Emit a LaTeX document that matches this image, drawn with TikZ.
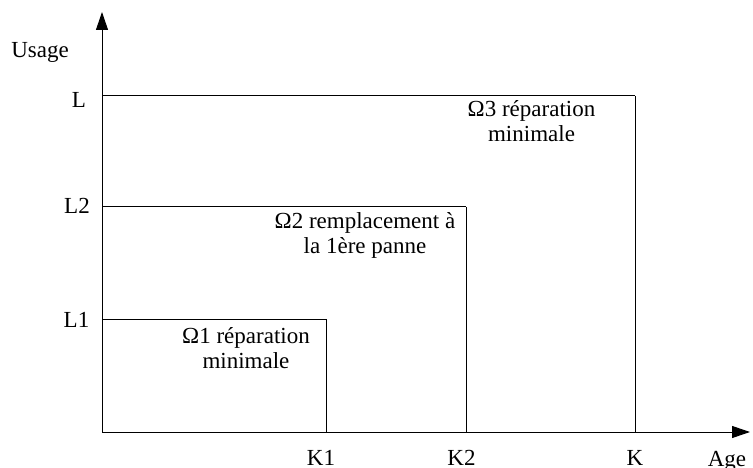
\documentclass[tikz,border=0pt]{standalone}
\usepackage{fontspec}
\setmainfont{Liberation Serif}
\usetikzlibrary{arrows.meta}

\begin{document}
\begin{tikzpicture}[x=1pt,y=-1pt,line width=1pt]
        \useasboundingbox (0,0) rectangle (753,468);
        \begin{scope}
            % axes and corners
            \coordinate (o) at (102,432);
            \coordinate (ytip) at (102,12);
            \coordinate (xtip) at (750,432);
            \coordinate (k1) at (326,432);
            \coordinate (k2) at (466,432);
            \coordinate (k) at (635,432);
            \coordinate (l1) at (102,319);
            \coordinate (l2) at (102,207);
            \coordinate (l) at (102,96);
            \coordinate (c1) at (326,319);
            \coordinate (c2) at (466,207);
            \coordinate (c) at (635,96);
            \begin{scope}[every node/.style={anchor=base,inner sep=0pt,font=\fontsize{23}{25}\selectfont}]
              \node (usage) at (40,58) {Usage};
              \node (age) at (727,466) {Age};
              \node (lab-l) at (79,108) {L};
              \node (lab-l2) at (77,214) {L2};
              \node (lab-l1) at (76.5,327) {L1};
              \node (lab-k1) at (321,465) {K1};
              \node (lab-k2) at (461.5,465) {K2};
              \node (lab-k) at (635,465) {K};
            \end{scope}
            % region labels (base = last line)
            \begin{scope}[every node/.style={anchor=base,inner sep=0pt,align=center,font=\fontsize{23}{25}\selectfont}]
              \node (omega1) at (246,368) {Ω1 réparation\\minimale};
              \node (omega2) at (365,253.3) {Ω2 remplacement à\\la 1ère panne};
              \node (omega3) at (531.5,141.7) {Ω3 réparation\\minimale};
            \end{scope}
            \begin{scope}[every edge/.style={draw=black,-{Triangle[length=18pt,width=12pt]}}]
                \path (o) edge (ytip)
                      (o) edge (xtip);
            \end{scope}
            \begin{scope}[every edge/.style={draw=black}]
                \path (l1) edge (c1)
                      (c1) edge (k1)
                      (l2) edge (c2)
                      (c2) edge (k2)
                      (l) edge (c)
                      (c) edge (k);
            \end{scope}
        \end{scope}
    \end{tikzpicture}
\end{document}
